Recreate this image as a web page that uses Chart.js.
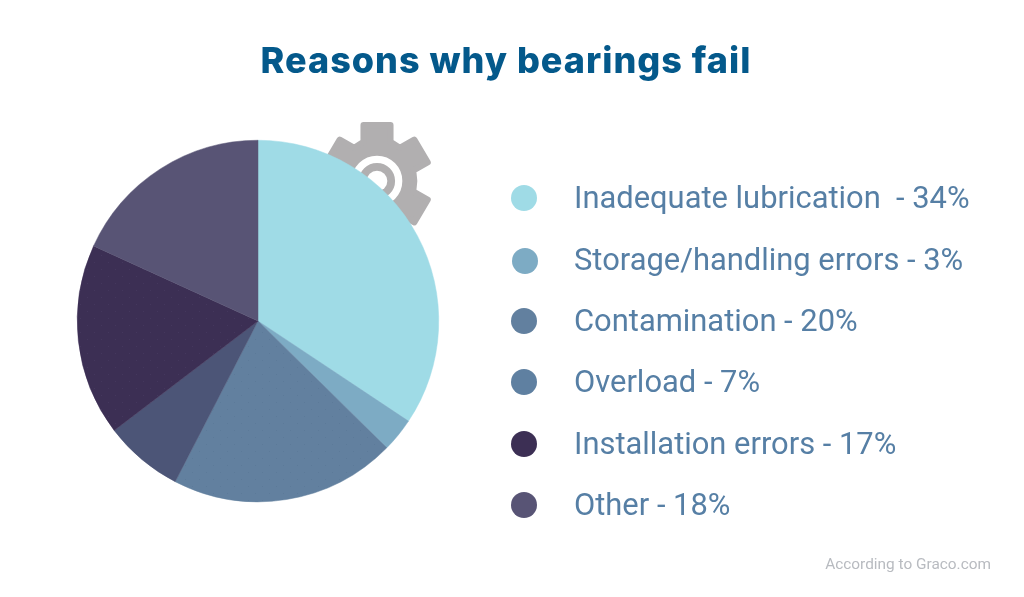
<!DOCTYPE html>
<html>
<head>
<meta charset="utf-8">
<title>Reasons why bearings fail</title>
<script src="https://cdn.jsdelivr.net/npm/chart.js@4"></script>
<style>
html, body { margin: 0; padding: 0; background: #fff; }
#page { position: relative; width: 1024px; height: 597px; overflow: hidden; }
#page canvas { position: absolute; left: 0; top: 0; }
#gear { position: absolute; left: 316px; top: 120px; }
#title { position: absolute; left: 0; width: 1012px; top: 38px; text-align: center; font: 800 36px Inter, sans-serif; letter-spacing: 1px; color: #04598b; line-height: 44px; }
.key { position: absolute; left: 574px; font: 30.9px/40px Roboto, sans-serif; color: #567fa5; white-space: pre; }
.dot { position: absolute; width: 26px; height: 26px; border-radius: 50%; }
#source { position: absolute; right: 33px; top: 554px; font: 15.4px/20px Roboto, sans-serif; color: #b8bbc0; }
</style>
</head>
<body>
<div id="page">
  <svg id="gear" width="122" height="122" viewBox="-59 -59 118 118">
    <path fill="#b1afb0" stroke="#b1afb0" stroke-width="6" stroke-linejoin="round" fill-rule="evenodd"
      d="M-13,-54 L13,-54 L13,-38 L22,-32 L36,-40 L49,-18 L35,-10 L36,0 L35,10 L49,18 L36,40 L22,32 L13,38 L13,54 L-13,54 L-13,38 L-22,32 L-36,40 L-49,18 L-35,10 L-36,0 L-35,-10 L-49,-18 L-36,-40 L-22,-32 L-13,-38 Z"/>
    <circle r="21" fill="none" stroke="#fff" stroke-width="7"/>
    <circle r="10" fill="#fff"/>
  </svg>
  <canvas id="pie" width="1024" height="597"></canvas>
  <div id="title">Reasons why bearings fail</div>
  <div id="keys"></div>
  <div id="source">According to Graco.com</div>
</div>
<script>
var categories = ["Inadequate lubrication ", "Storage/handling errors", "Contamination", "Overload", "Installation errors", "Other"];
var shares = [34, 3, 20, 7, 17, 18];
var sliceColours = ["#9fdbe6", "#7dabc4", "#62809f", "#4c5577", "#3c2f54", "#585475"];
var speckColours = [null, null, "#5c7a99", null, "#44375d", null];
var keyColours = ["#9fdbe6", "#7dabc4", "#62809f", "#5f80a1", "#3c2f54", "#585475"];
var keyRows = [198, 260, 321, 382, 444, 505];

// faint dotted print texture on two of the slices
function Speckle(base, speck)
{
    if (!speck) return base;
    var tile = document.createElement("canvas");
    tile.width = 14;
    tile.height = 14;
    var c = tile.getContext("2d");
    c.fillStyle = base;
    c.fillRect(0, 0, 14, 14);
    c.fillStyle = speck;
    c.fillRect(3, 3, 1, 1);
    c.fillRect(10, 10, 1, 1);
    return c.createPattern(tile, "repeat");
}

var keys = document.getElementById("keys");
categories.forEach(function (name, i) {
    var dot = document.createElement("div");
    dot.className = "dot";
    dot.style.left = (i == 1 ? 512 : 511) + "px";
    dot.style.top = (keyRows[i] - 13 + (i == 1 ? 1 : 0)) + "px";
    dot.style.background = keyColours[i];
    keys.appendChild(dot);

    var key = document.createElement("div");
    key.className = "key";
    key.style.top = (keyRows[i] - 20) + "px";
    key.textContent = name + " - " + shares[i] + "%";
    keys.appendChild(key);
});

new Chart(document.getElementById("pie").getContext("2d"), {
    type: "pie",
    data: {
        labels: categories,
        datasets: [{
            data: shares,
            backgroundColor: sliceColours.map(function (col, i) { return Speckle(col, speckColours[i]); }),
            borderColor: sliceColours,
            borderWidth: 0.5
        }]
    },
    options: {
        responsive: false,
        animation: false,
        layout: { padding: { left: 77, top: 140, right: 585, bottom: 95 } },
        plugins: {
            legend: { display: false },
            tooltip: { enabled: false }
        }
    }
});
</script>
</body>
</html>
